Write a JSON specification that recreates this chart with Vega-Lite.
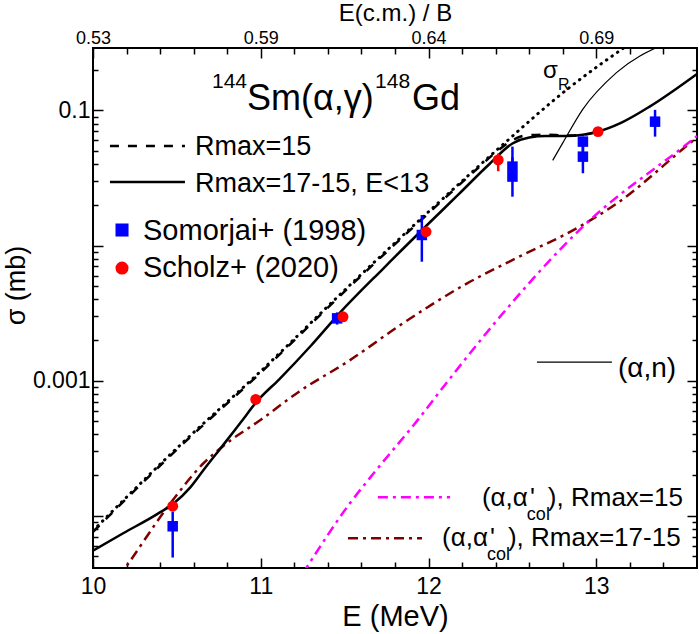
{
"$schema": "https://vega.github.io/schema/vega-lite/v6.json",
"width": 604, "height": 520,
"autosize": {"type": "none"},
"padding": {"left": 93, "top": 48, "right": 2, "bottom": 66},
"config": {
  "font": "Liberation Sans",
  "view": {"stroke": "black", "strokeWidth": 2},
  "axis": {"grid": false, "domain": false, "tickColor": "black", "tickWidth": 1.5, "labelColor": "black", "titleColor": "black", "titleFontWeight": "normal", "labelFont": "Liberation Sans", "titleFont": "Liberation Sans", "labelFlush": false, "labelOverlap": false, "labelBound": false}
},
"data": {"values": [{}]},
"datasets": {
  "solid": [{"E":10.0,"s":5.5e-5},{"E":10.18,"s":7.41e-5},{"E":10.38,"s":1.023e-4},{"E":10.48,"s":1.23e-4},{"E":10.58,"s":1.622e-4},{"E":10.66,"s":2.188e-4},{"E":10.78,"s":3.388e-4},{"E":10.88,"s":4.898e-4},{"E":10.98,"s":7.079e-4},{"E":11.11,"s":1.023e-3},{"E":11.3,"s":1.82e-3},{"E":11.47,"s":3.162e-3},{"E":11.73,"s":6.76e-3},{"E":11.99,"s":0.01413},{"E":12.18,"s":0.024},{"E":12.36,"s":0.0398},{"E":12.5,"s":0.0569},{"E":12.6,"s":0.0631},{"E":12.7,"s":0.0646},{"E":12.82,"s":0.0646},{"E":12.92,"s":0.0661},{"E":13.0,"s":0.0692},{"E":13.15,"s":0.0813},{"E":13.32,"s":0.1072},{"E":13.6,"s":0.1862}],
  "dashed": [{"E":10.0,"s":7.59e-5},{"E":10.5,"s":3.09e-4},{"E":11.0,"s":1.148e-3},{"E":11.5,"s":4.571e-3},{"E":12.0,"s":0.01738},{"E":12.3,"s":0.038},{"E":12.42,"s":0.0513},{"E":12.5,"s":0.0603},{"E":12.58,"s":0.0653},{"E":12.7,"s":0.0661},{"E":12.82,"s":0.0653},{"E":12.92,"s":0.0661},{"E":13.0,"s":0.0692}],
  "dotted": [{"E":10.0,"s":7.76e-5},{"E":10.5,"s":3.162e-4},{"E":11.0,"s":1.175e-3},{"E":11.5,"s":4.677e-3},{"E":12.0,"s":0.01778},{"E":12.4,"s":0.0501},{"E":12.84,"s":0.1479},{"E":13.2,"s":0.312}],
  "alphan": [{"E":12.74,"s":0.0427},{"E":12.8,"s":0.0575},{"E":12.92,"s":0.1023},{"E":13.12,"s":0.1905},{"E":13.4,"s":0.309}],
  "magenta": [{"E":11.25,"s":3.72e-5},{"E":11.27,"s":4.07e-5},{"E":11.53,"s":1.23e-4},{"E":11.69,"s":2.188e-4},{"E":11.93,"s":5.012e-4},{"E":12.13,"s":1.047e-3},{"E":12.39,"s":2.63e-3},{"E":12.92,"s":0.0138},{"E":13.57,"s":0.0603},{"E":13.6,"s":0.0646}],
  "darkred": [{"E":10.15,"s":3.47e-5},{"E":10.19,"s":4.07e-5},{"E":10.46,"s":1.23e-4},{"E":10.66,"s":2.455e-4},{"E":10.78,"s":3.311e-4},{"E":11.0,"s":5.129e-4},{"E":11.23,"s":8.318e-4},{"E":11.53,"s":1.413e-3},{"E":11.83,"s":2.57e-3},{"E":12.23,"s":5.248e-3},{"E":12.52,"s":8.035e-3},{"E":12.9,"s":0.0138},{"E":13.12,"s":0.02042},{"E":13.58,"s":0.0603},{"E":13.6,"s":0.0631}],
  "somorjai": [{"E":10.475,"s":8.35e-5,"lo":4.9e-5,"hi":1.07e-4},{"E":11.455,"s":2.89e-3,"lo":2.6e-3,"hi":3.2e-3},{"E":11.96,"s":0.01197,"lo":0.00759,"hi":0.01683},{"E":12.5,"s":0.0384,"lo":0.03,"hi":0.054},{"E":12.5,"s":0.0324,"lo":0.023,"hi":0.045},{"E":12.92,"s":0.0588,"lo":0.045,"hi":0.064},{"E":12.92,"s":0.0455,"lo":0.0343,"hi":0.058},{"E":13.35,"s":0.0826,"lo":0.064,"hi":0.101}],
  "scholz": [{"E":10.475,"s":1.175e-4},{"E":10.97,"s":7.26e-4},{"E":11.49,"s":2.97e-3},{"E":11.985,"s":0.01265},{"E":12.415,"s":0.043,"lo":0.0355,"hi":0.048},{"E":13.01,"s":0.0697}]
},
"layer": [
  {"data": {"name": "darkred"}, "mark": {"type": "line", "color": "#800000", "strokeWidth": 2.5, "strokeDash": [10,5,3,5], "interpolate": "monotone", "clip": true},
   "encoding": {"x": {"field": "E", "type": "quantitative", "scale": {"domain": [10,13.6], "nice": false, "zero": false},
      "axis": {"orient": "bottom", "values": [10,11,12,13], "tickSize": -10, "format": "d", "labelFontSize": 23, "labelPadding": 35, "labelBaseline": "alphabetic", "title": "E (MeV)", "titleFontSize": 29, "titleBaseline": "alphabetic", "titleY": 57}},
     "y": {"field": "s", "type": "quantitative", "scale": {"type": "log", "domain": [4.1e-5,0.29], "nice": false},
      "axis": {"orient": "left", "values": [0.0001,0.001,0.01,0.1], "tickSize": -10, "labelExpr": "datum.value == 0.1 ? '0.1' : datum.value == 0.001 ? '0.001' : ''", "labelFontSize": 23, "labelPadding": 13, "title": "σ (mb)", "titleFontSize": 27, "titleX": -63, "titleY": 237, "titleAngle": 270, "titleBaseline": "bottom", "titleAlign": "center"}}}},
  {"data": {"name": "magenta"}, "mark": {"type": "line", "color": "#ff00ff", "strokeWidth": 2.5, "strokeDash": [10,5,3,5], "interpolate": "monotone", "clip": true},
   "encoding": {"x": {"field": "E", "type": "quantitative", "scale": {"domain": [10,13.6], "nice": false, "zero": false},
      "axis": {"orient": "bottom", "values": [10.2,10.4,10.6,10.8,11.2,11.4,11.6,11.8,12.2,12.4,12.6,12.8,13.2,13.4], "tickSize": -6, "labels": false, "title": null}},
     "y": {"field": "s", "type": "quantitative", "scale": {"type": "log", "domain": [4.1e-5,0.29], "nice": false},
      "axis": {"orient": "left", "values": [5e-5,6e-5,7e-5,8e-5,9e-5,2e-4,3e-4,4e-4,5e-4,6e-4,7e-4,8e-4,9e-4,0.002,0.003,0.004,0.005,0.006,0.007,0.008,0.009,0.02,0.03,0.04,0.05,0.06,0.07,0.08,0.09,0.2], "tickSize": -5, "labels": false, "title": null}}}},
  {"data": {"name": "dotted"}, "mark": {"type": "line", "color": "black", "strokeWidth": 3, "strokeDash": [0.5,6.2], "strokeCap": "round", "interpolate": "monotone", "clip": true},
   "encoding": {"x": {"field": "E", "type": "quantitative", "scale": {"domain": [10,13.6], "nice": false, "zero": false},
      "axis": {"orient": "top", "values": [10,11,12,13], "tickSize": -10, "labelExpr": "datum.value == 10 ? '0.53' : datum.value == 11 ? '0.59' : datum.value == 12 ? '0.64' : '0.69'", "labelFontSize": 18, "labelPadding": 15, "labelBaseline": "alphabetic", "title": "E(c.m.) / B", "titleFontSize": 24, "titleBaseline": "alphabetic", "titleY": -28}},
     "y": {"field": "s", "type": "quantitative", "scale": {"type": "log", "domain": [4.1e-5,0.29], "nice": false},
      "axis": {"orient": "right", "values": [0.0001,0.001,0.01,0.1], "tickSize": -10, "labels": false, "title": null}}}},
  {"data": {"name": "dashed"}, "mark": {"type": "line", "color": "black", "strokeWidth": 2.5, "strokeDash": [9,9], "interpolate": "monotone", "clip": true},
   "encoding": {"x": {"field": "E", "type": "quantitative", "scale": {"domain": [10,13.6], "nice": false, "zero": false},
      "axis": {"orient": "top", "values": [10.2,10.4,10.6,10.8,11.2,11.4,11.6,11.8,12.2,12.4,12.6,12.8,13.2,13.4], "tickSize": -6, "labels": false, "title": null}},
     "y": {"field": "s", "type": "quantitative", "scale": {"type": "log", "domain": [4.1e-5,0.29], "nice": false},
      "axis": {"orient": "right", "values": [5e-5,6e-5,7e-5,8e-5,9e-5,2e-4,3e-4,4e-4,5e-4,6e-4,7e-4,8e-4,9e-4,0.002,0.003,0.004,0.005,0.006,0.007,0.008,0.009,0.02,0.03,0.04,0.05,0.06,0.07,0.08,0.09,0.2], "tickSize": -5, "labels": false, "title": null}}}},
  {"data": {"name": "solid"}, "mark": {"type": "line", "color": "black", "strokeWidth": 2.5, "interpolate": "monotone", "clip": true},
   "encoding": {"x": {"field": "E", "type": "quantitative", "scale": {"domain": [10,13.6], "nice": false, "zero": false}, "axis": null},
     "y": {"field": "s", "type": "quantitative", "scale": {"type": "log", "domain": [4.1e-5,0.29], "nice": false}, "axis": null}}},
  {"data": {"name": "alphan"}, "mark": {"type": "line", "color": "black", "strokeWidth": 1.2, "interpolate": "monotone", "clip": true},
   "encoding": {"x": {"field": "E", "type": "quantitative", "scale": {"domain": [10,13.6], "nice": false, "zero": false}, "axis": null},
     "y": {"field": "s", "type": "quantitative", "scale": {"type": "log", "domain": [4.1e-5,0.29], "nice": false}, "axis": null}}},
  {"data": {"name": "somorjai"}, "mark": {"type": "rule", "color": "#0000ff", "strokeWidth": 2.5, "clip": true},
   "encoding": {"x": {"field": "E", "type": "quantitative", "scale": {"domain": [10,13.6], "nice": false, "zero": false}, "axis": null},
     "y": {"field": "lo", "type": "quantitative", "scale": {"type": "log", "domain": [4.1e-5,0.29], "nice": false}, "axis": null},
     "y2": {"field": "hi"}}},
  {"data": {"name": "somorjai"}, "mark": {"type": "square", "color": "#0000ff", "size": 110, "opacity": 1, "clip": true},
   "encoding": {"x": {"field": "E", "type": "quantitative", "scale": {"domain": [10,13.6], "nice": false, "zero": false}, "axis": null},
     "y": {"field": "s", "type": "quantitative", "scale": {"type": "log", "domain": [4.1e-5,0.29], "nice": false}, "axis": null}}},
  {"data": {"name": "scholz"}, "transform": [{"filter": "isValid(datum.lo)"}], "mark": {"type": "rule", "color": "#ff0000", "strokeWidth": 2.5, "clip": true},
   "encoding": {"x": {"field": "E", "type": "quantitative", "scale": {"domain": [10,13.6], "nice": false, "zero": false}, "axis": null},
     "y": {"field": "lo", "type": "quantitative", "scale": {"type": "log", "domain": [4.1e-5,0.29], "nice": false}, "axis": null},
     "y2": {"field": "hi"}}},
  {"data": {"name": "scholz"}, "mark": {"type": "circle", "color": "#ff0000", "size": 120, "opacity": 1, "clip": true},
   "encoding": {"x": {"field": "E", "type": "quantitative", "scale": {"domain": [10,13.6], "nice": false, "zero": false}, "axis": null},
     "y": {"field": "s", "type": "quantitative", "scale": {"type": "log", "domain": [4.1e-5,0.29], "nice": false}, "axis": null}}},

  {"mark": {"type": "rule", "color": "black", "strokeWidth": 2.5, "strokeDash": [9,9]},
   "encoding": {"x": {"datum": 10.101, "type": "quantitative", "scale": {"domain": [10,13.6], "nice": false, "zero": false}, "axis": null}, "x2": {"datum": 10.548},
     "y": {"datum": 0.0546, "type": "quantitative", "scale": {"type": "log", "domain": [4.1e-5,0.29], "nice": false}, "axis": null}}},
  {"mark": {"type": "rule", "color": "black", "strokeWidth": 2.5},
   "encoding": {"x": {"datum": 10.101, "type": "quantitative", "scale": {"domain": [10,13.6], "nice": false, "zero": false}, "axis": null}, "x2": {"datum": 10.548},
     "y": {"datum": 0.0295, "type": "quantitative", "scale": {"type": "log", "domain": [4.1e-5,0.29], "nice": false}, "axis": null}}},
  {"mark": {"type": "square", "color": "#0000ff", "size": 170, "opacity": 1},
   "encoding": {"x": {"datum": 10.173, "type": "quantitative", "scale": {"domain": [10,13.6], "nice": false, "zero": false}, "axis": null},
     "y": {"datum": 0.01303, "type": "quantitative", "scale": {"type": "log", "domain": [4.1e-5,0.29], "nice": false}, "axis": null}}},
  {"mark": {"type": "circle", "color": "#ff0000", "size": 170, "opacity": 1},
   "encoding": {"x": {"datum": 10.173, "type": "quantitative", "scale": {"domain": [10,13.6], "nice": false, "zero": false}, "axis": null},
     "y": {"datum": 0.00681, "type": "quantitative", "scale": {"type": "log", "domain": [4.1e-5,0.29], "nice": false}, "axis": null}}},
  {"mark": {"type": "rule", "color": "black", "strokeWidth": 1.2},
   "encoding": {"x": {"datum": 12.646, "type": "quantitative", "scale": {"domain": [10,13.6], "nice": false, "zero": false}, "axis": null}, "x2": {"datum": 13.093},
     "y": {"datum": 0.001371, "type": "quantitative", "scale": {"type": "log", "domain": [4.1e-5,0.29], "nice": false}, "axis": null}}},
  {"mark": {"type": "rule", "color": "#ff00ff", "strokeWidth": 2.5, "strokeDash": [10,5,3,5]},
   "encoding": {"x": {"datum": 11.698, "type": "quantitative", "scale": {"domain": [10,13.6], "nice": false, "zero": false}, "axis": null}, "x2": {"datum": 12.128},
     "y": {"datum": 0.0001371, "type": "quantitative", "scale": {"type": "log", "domain": [4.1e-5,0.29], "nice": false}, "axis": null}}},
  {"mark": {"type": "rule", "color": "#800000", "strokeWidth": 2.5, "strokeDash": [10,5,3,5]},
   "encoding": {"x": {"datum": 11.52, "type": "quantitative", "scale": {"domain": [10,13.6], "nice": false, "zero": false}, "axis": null}, "x2": {"datum": 11.961},
     "y": {"datum": 0.0000681, "type": "quantitative", "scale": {"type": "log", "domain": [4.1e-5,0.29], "nice": false}, "axis": null}}},

  {"mark": {"type": "text", "align": "left", "baseline": "alphabetic", "fontSize": 21, "color": "black"},
   "encoding": {"x": {"datum": 10.709, "type": "quantitative", "scale": {"domain": [10,13.6], "nice": false, "zero": false}, "axis": null},
     "y": {"datum": 0.1469, "type": "quantitative", "scale": {"type": "log", "domain": [4.1e-5,0.29], "nice": false}, "axis": null}, "text": {"value": "144"}}},
  {"mark": {"type": "text", "align": "left", "baseline": "alphabetic", "fontSize": 36, "color": "black"},
   "encoding": {"x": {"datum": 10.918, "type": "quantitative", "scale": {"domain": [10,13.6], "nice": false, "zero": false}, "axis": null},
     "y": {"datum": 0.1009, "type": "quantitative", "scale": {"type": "log", "domain": [4.1e-5,0.29], "nice": false}, "axis": null}, "text": {"value": "Sm(α,γ)"}}},
  {"mark": {"type": "text", "align": "left", "baseline": "alphabetic", "fontSize": 21, "color": "black"},
   "encoding": {"x": {"datum": 11.681, "type": "quantitative", "scale": {"domain": [10,13.6], "nice": false, "zero": false}, "axis": null},
     "y": {"datum": 0.1469, "type": "quantitative", "scale": {"type": "log", "domain": [4.1e-5,0.29], "nice": false}, "axis": null}, "text": {"value": "148"}}},
  {"mark": {"type": "text", "align": "left", "baseline": "alphabetic", "fontSize": 36, "color": "black"},
   "encoding": {"x": {"datum": 11.901, "type": "quantitative", "scale": {"domain": [10,13.6], "nice": false, "zero": false}, "axis": null},
     "y": {"datum": 0.1009, "type": "quantitative", "scale": {"type": "log", "domain": [4.1e-5,0.29], "nice": false}, "axis": null}, "text": {"value": "Gd"}}},
  {"mark": {"type": "text", "align": "left", "baseline": "alphabetic", "fontSize": 24, "color": "black"},
   "encoding": {"x": {"datum": 12.682, "type": "quantitative", "scale": {"domain": [10,13.6], "nice": false, "zero": false}, "axis": null},
     "y": {"datum": 0.1734, "type": "quantitative", "scale": {"type": "log", "domain": [4.1e-5,0.29], "nice": false}, "axis": null}, "text": {"value": "σ"}}},
  {"mark": {"type": "text", "align": "left", "baseline": "alphabetic", "fontSize": 16, "color": "black"},
   "encoding": {"x": {"datum": 12.771, "type": "quantitative", "scale": {"domain": [10,13.6], "nice": false, "zero": false}, "axis": null},
     "y": {"datum": 0.1419, "type": "quantitative", "scale": {"type": "log", "domain": [4.1e-5,0.29], "nice": false}, "axis": null}, "text": {"value": "R"}}},
  {"mark": {"type": "text", "align": "left", "baseline": "alphabetic", "fontSize": 27, "color": "black"},
   "encoding": {"x": {"datum": 10.608, "type": "quantitative", "scale": {"domain": [10,13.6], "nice": false, "zero": false}, "axis": null},
     "y": {"datum": 0.0468, "type": "quantitative", "scale": {"type": "log", "domain": [4.1e-5,0.29], "nice": false}, "axis": null}, "text": {"value": "Rmax=15"}}},
  {"mark": {"type": "text", "align": "left", "baseline": "alphabetic", "fontSize": 27, "color": "black"},
   "encoding": {"x": {"datum": 10.608, "type": "quantitative", "scale": {"domain": [10,13.6], "nice": false, "zero": false}, "axis": null},
     "y": {"datum": 0.0249, "type": "quantitative", "scale": {"type": "log", "domain": [4.1e-5,0.29], "nice": false}, "axis": null}, "text": {"value": "Rmax=17-15, E<13"}}},
  {"mark": {"type": "text", "align": "left", "baseline": "alphabetic", "fontSize": 29, "color": "black"},
   "encoding": {"x": {"datum": 10.298, "type": "quantitative", "scale": {"domain": [10,13.6], "nice": false, "zero": false}, "axis": null},
     "y": {"datum": 0.01099, "type": "quantitative", "scale": {"type": "log", "domain": [4.1e-5,0.29], "nice": false}, "axis": null}, "text": {"value": "Somorjai+ (1998)"}}},
  {"mark": {"type": "text", "align": "left", "baseline": "alphabetic", "fontSize": 29, "color": "black"},
   "encoding": {"x": {"datum": 10.298, "type": "quantitative", "scale": {"domain": [10,13.6], "nice": false, "zero": false}, "axis": null},
     "y": {"datum": 0.00585, "type": "quantitative", "scale": {"type": "log", "domain": [4.1e-5,0.29], "nice": false}, "axis": null}, "text": {"value": "Scholz+ (2020)"}}},
  {"mark": {"type": "text", "align": "left", "baseline": "alphabetic", "fontSize": 28, "color": "black"},
   "encoding": {"x": {"datum": 13.129, "type": "quantitative", "scale": {"domain": [10,13.6], "nice": false, "zero": false}, "axis": null},
     "y": {"datum": 0.001062, "type": "quantitative", "scale": {"type": "log", "domain": [4.1e-5,0.29], "nice": false}, "axis": null}, "text": {"value": "(α,n)"}}},
  {"mark": {"type": "text", "align": "right", "baseline": "alphabetic", "fontSize": 26, "color": "black"},
   "encoding": {"x": {"datum": 12.592, "type": "quantitative", "scale": {"domain": [10,13.6], "nice": false, "zero": false}, "axis": null},
     "y": {"datum": 0.0001175, "type": "quantitative", "scale": {"type": "log", "domain": [4.1e-5,0.29], "nice": false}, "axis": null}, "text": {"value": "(α,α"}}},
  {"mark": {"type": "text", "align": "left", "baseline": "alphabetic", "fontSize": 26, "color": "black"},
   "encoding": {"x": {"datum": 12.604, "type": "quantitative", "scale": {"domain": [10,13.6], "nice": false, "zero": false}, "axis": null},
     "y": {"datum": 0.0001175, "type": "quantitative", "scale": {"type": "log", "domain": [4.1e-5,0.29], "nice": false}, "axis": null}, "text": {"value": "'"}}},
  {"mark": {"type": "text", "align": "left", "baseline": "alphabetic", "fontSize": 18, "color": "black"},
   "encoding": {"x": {"datum": 12.586, "type": "quantitative", "scale": {"domain": [10,13.6], "nice": false, "zero": false}, "axis": null},
     "y": {"datum": 0.0000927, "type": "quantitative", "scale": {"type": "log", "domain": [4.1e-5,0.29], "nice": false}, "axis": null}, "text": {"value": "col"}}},
  {"mark": {"type": "text", "align": "left", "baseline": "alphabetic", "fontSize": 26, "color": "black"},
   "encoding": {"x": {"datum": 12.711, "type": "quantitative", "scale": {"domain": [10,13.6], "nice": false, "zero": false}, "axis": null},
     "y": {"datum": 0.0001175, "type": "quantitative", "scale": {"type": "log", "domain": [4.1e-5,0.29], "nice": false}, "axis": null}, "text": {"value": "), Rmax=15"}}},
  {"mark": {"type": "text", "align": "right", "baseline": "alphabetic", "fontSize": 26, "color": "black"},
   "encoding": {"x": {"datum": 12.354, "type": "quantitative", "scale": {"domain": [10,13.6], "nice": false, "zero": false}, "axis": null},
     "y": {"datum": 0.0000594, "type": "quantitative", "scale": {"type": "log", "domain": [4.1e-5,0.29], "nice": false}, "axis": null}, "text": {"value": "(α,α"}}},
  {"mark": {"type": "text", "align": "left", "baseline": "alphabetic", "fontSize": 26, "color": "black"},
   "encoding": {"x": {"datum": 12.366, "type": "quantitative", "scale": {"domain": [10,13.6], "nice": false, "zero": false}, "axis": null},
     "y": {"datum": 0.0000594, "type": "quantitative", "scale": {"type": "log", "domain": [4.1e-5,0.29], "nice": false}, "axis": null}, "text": {"value": "'"}}},
  {"mark": {"type": "text", "align": "left", "baseline": "alphabetic", "fontSize": 18, "color": "black"},
   "encoding": {"x": {"datum": 12.348, "type": "quantitative", "scale": {"domain": [10,13.6], "nice": false, "zero": false}, "axis": null},
     "y": {"datum": 0.0000468, "type": "quantitative", "scale": {"type": "log", "domain": [4.1e-5,0.29], "nice": false}, "axis": null}, "text": {"value": "col"}}},
  {"mark": {"type": "text", "align": "left", "baseline": "alphabetic", "fontSize": 26, "color": "black"},
   "encoding": {"x": {"datum": 12.473, "type": "quantitative", "scale": {"domain": [10,13.6], "nice": false, "zero": false}, "axis": null},
     "y": {"datum": 0.0000594, "type": "quantitative", "scale": {"type": "log", "domain": [4.1e-5,0.29], "nice": false}, "axis": null}, "text": {"value": "), Rmax=17-15"}}}
],
"resolve": {"axis": {"x": "independent", "y": "independent"}}
}
